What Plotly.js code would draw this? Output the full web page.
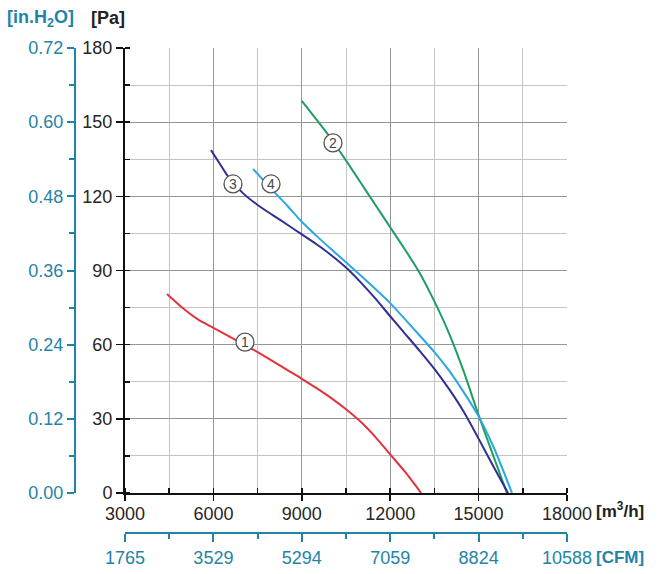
<!DOCTYPE html>
<html>
<head>
<meta charset="utf-8">
<script src="https://cdn.plot.ly/plotly-3.0.1.min.js"></script>
<style>html,body{margin:0;padding:0;background:#fff;}#chart{width:659px;height:574px;}</style>
</head>
<body>
<div id="chart"></div>
<script>
// ---- data (airflow m3/h, static pressure Pa) ----
const curve1X = [4425, 5000, 5500, 6000, 6500, 7000, 7500, 8000, 8500, 9000, 9500, 10000, 10500, 11000, 11500, 12000, 12500, 13050];
const curve1Y = [80.5, 74.4, 70.0, 66.8, 63.6, 60.3, 57.0, 53.4, 49.8, 46.2, 42.4, 38.4, 33.9, 28.8, 22.6, 15.6, 8.6, 0];
const curve2X = [9000, 9500, 10000, 10500, 11000, 11500, 12000, 12500, 13000, 13500, 14000, 14500, 15000, 15500, 15963];
const curve2Y = [158.6, 151.0, 143.2, 134.5, 125.5, 116.5, 107.5, 98.5, 89.0, 77.5, 64.5, 49.0, 31.5, 15.0, 0];
const curve3X = [5918, 6200, 6500, 7000, 7500, 8000, 8500, 9000, 9500, 10000, 10500, 11000, 11500, 12000, 12500, 13000, 13500, 14000, 14500, 15000, 15500, 15998];
const curve3Y = [138.7, 133.5, 128.0, 121.3, 116.5, 112.5, 108.6, 104.6, 100.6, 96.2, 91.2, 85.2, 78.6, 71.5, 64.5, 57.5, 50.2, 42.0, 32.8, 22.0, 10.8, 0];
const curve4X = [7344, 8000, 8500, 9000, 9500, 10000, 10500, 11000, 11500, 12000, 12500, 13000, 13500, 14000, 14500, 15000, 15500, 16133];
const curve4Y = [131.1, 122.6, 116.3, 109.7, 104.0, 98.6, 93.3, 88.0, 82.5, 76.8, 70.3, 63.7, 57.0, 49.5, 40.7, 31.0, 18.8, 0];
const curveColors = ['#e5323c', '#1e9e62', '#2e3190', '#2aa8df'];

const labelNames = ['1', '2', '3', '4'];
const labelX = [7072, 10058, 6665, 7955];
const labelY = [61, 141.6, 125, 125];

const xTicks = [3000, 6000, 9000, 12000, 15000, 18000];
const xLabels = ['3000', '6000', '9000', '12000', '15000', '18000'];
const yTicks = [0, 30, 60, 90, 120, 150, 180];
const cfmTicks = [1765, 3529, 5294, 7059, 8824, 10588];
const cfmLabels = ['1765', '3529', '5294', '7059', '8824', '10588'];
const h2oTicks = [0, 0.12, 0.24, 0.36, 0.48, 0.60, 0.72];
const h2oLabels = ['0.00', '0.12', '0.24', '0.36', '0.48', '0.60', '0.72'];

const TEAL = '#1f84a6';
const FONT = '"Liberation Sans", Arial, sans-serif';

// plot area in pixels: 75..567 x 48..533
const L = 75, R = 567, T = 48, B = 533;
const px = v => (v - L) / (R - L);
const py = v => (B - v) / (B - T);

const series = [[curve1X, curve1Y], [curve2X, curve2Y], [curve3X, curve3Y], [curve4X, curve4Y]];
const traces = series.map((s, i) => ({
  x: s[0], y: s[1], type: 'scatter', mode: 'lines',
  line: {color: curveColors[i], width: 2, shape: 'spline', smoothing: 0.8},
  hoverinfo: 'skip', showlegend: false, xaxis: 'x', yaxis: 'y'
}));
// invisible helper trace so the secondary axes are drawn
traces.push({
  x: cfmTicks, y: h2oTicks, type: 'scatter', mode: 'markers',
  marker: {opacity: 0, size: 1}, hoverinfo: 'skip', showlegend: false,
  xaxis: 'x2', yaxis: 'y2'
});

const tickFont = {family: FONT, size: 18, color: '#262626'};
const tealFont = {family: FONT, size: 18, color: TEAL};

const shapes = labelX.map((x, i) => ({
  type: 'circle', xref: 'x', yref: 'y', xsizemode: 'pixel', ysizemode: 'pixel',
  xanchor: x, yanchor: labelY[i], x0: -9, x1: 9, y0: -9, y1: 9,
  fillcolor: '#ffffff', line: {color: '#555555', width: 1.3}, layer: 'above'
}));

const annotations = labelX.map((x, i) => ({
  x: x, y: labelY[i], xref: 'x', yref: 'y', text: labelNames[i], showarrow: false,
  font: {family: FONT, size: 14, color: '#444'}, xanchor: 'center', yanchor: 'middle'
}));
annotations.push(
  {x: px(5), y: py(18), xref: 'paper', yref: 'paper', xanchor: 'left', yanchor: 'middle', showarrow: false,
   text: '<b>[in.H<sub>2</sub>O]</b>', font: {family: FONT, size: 18, color: TEAL}},
  {x: px(89), y: py(18), xref: 'paper', yref: 'paper', xanchor: 'left', yanchor: 'middle', showarrow: false,
   text: '<b>[Pa]</b>', font: {family: FONT, size: 18, color: '#222'}},
  {x: px(594), y: py(510), xref: 'paper', yref: 'paper', xanchor: 'left', yanchor: 'middle', showarrow: false,
   text: '<b>[m<sup>3</sup>/h]</b>', font: {family: FONT, size: 17, color: '#222'}},
  {x: px(594), y: py(557), xref: 'paper', yref: 'paper', xanchor: 'left', yanchor: 'middle', showarrow: false,
   text: '<b>[CFM]</b>', font: {family: FONT, size: 17, color: TEAL}}
);

const layout = {
  width: 659, height: 574,
  margin: {l: L, r: 659 - R, t: T, b: 574 - B, pad: 0},
  paper_bgcolor: '#fff', plot_bgcolor: '#fff',
  showlegend: false,
  xaxis: {
    domain: [px(125), 1], anchor: 'y', range: [3000, 18000], autorange: false,
    tickvals: xTicks, ticktext: xLabels, ticks: 'outside', ticklen: 6, tickwidth: 1.5, tickcolor: '#111',
    ticklabelstandoff: -3,
    showline: true, linecolor: '#111', linewidth: 2, zeroline: false,
    showgrid: true, gridcolor: '#969696', gridwidth: 1,
    minor: {dtick: 1500, tick0: 3000, ticks: 'inside', ticklen: 5, tickcolor: '#111', showgrid: true, gridcolor: '#c4c4c4', gridwidth: 1},
    tickfont: tickFont
  },
  yaxis: {
    domain: [py(493), 1], anchor: 'x', range: [0, 180], autorange: false,
    tickvals: yTicks, ticks: 'outside', ticklen: 7, tickwidth: 1.5, tickcolor: '#111',
    showline: true, linecolor: '#111', linewidth: 2, zeroline: false,
    showgrid: true, gridcolor: '#969696', gridwidth: 1,
    minor: {dtick: 15, tick0: 0, ticks: 'inside', ticklen: 5, tickcolor: '#111', showgrid: true, gridcolor: '#c4c4c4', gridwidth: 1},
    tickfont: tickFont
  },
  xaxis2: {
    overlaying: 'x', anchor: 'free', position: 0, side: 'bottom',
    range: [3000 / 1.7, 18000 / 1.7], autorange: false,
    tickvals: cfmTicks, ticktext: cfmLabels, ticks: 'outside', ticklen: 8, tickwidth: 2, tickcolor: TEAL,
    showline: true, linecolor: TEAL, linewidth: 2, showgrid: false, zeroline: false,
    minor: {dtick: 1500 / 1.7, tick0: 3000 / 1.7, ticks: 'outside', ticklen: 5, tickcolor: TEAL, showgrid: false},
    tickfont: tealFont
  },
  yaxis2: {
    overlaying: 'y', anchor: 'free', position: 0, side: 'left',
    range: [0, 0.72], autorange: false,
    tickvals: h2oTicks, ticktext: h2oLabels, ticks: 'outside', ticklen: 7, tickwidth: 2, tickcolor: TEAL,
    showline: true, linecolor: TEAL, linewidth: 2, showgrid: false, zeroline: false,
    minor: {dtick: 0.06, tick0: 0, ticks: 'outside', ticklen: 5, tickcolor: TEAL, showgrid: false},
    tickfont: tealFont
  },
  shapes: shapes,
  annotations: annotations
};

Plotly.newPlot('chart', traces, layout, {staticPlot: true, displayModeBar: false});
</script>
</body>
</html>
